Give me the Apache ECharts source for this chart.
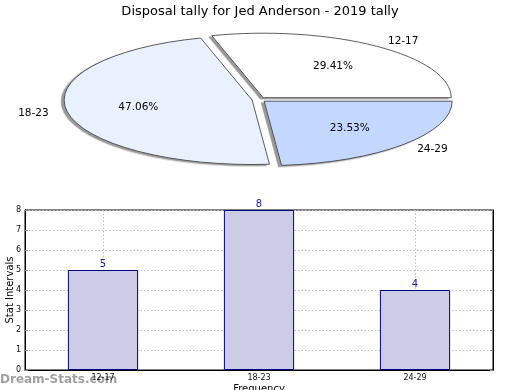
<!DOCTYPE html>
<html><head><meta charset="utf-8">
<script src="https://cdn.jsdelivr.net/npm/echarts@6/dist/echarts.min.js"></script>
<style>
html,body{margin:0;padding:0;background:#fff;}
#wrap{position:relative;width:520px;height:390px;overflow:hidden;}
#pieA{position:absolute;left:0;top:31.4px;width:520px;height:400px;transform:scaleY(0.343);transform-origin:0 0;}
#main{position:absolute;left:0;top:0;width:520px;height:390px;}
#pieA path{vector-effect:non-scaling-stroke;}
</style></head>
<body><div id="wrap"><div id="pieA"></div><div id="main"></div></div>
<script>
const categories = ['12-17', '18-23', '24-29'];
const values = [5, 8, 4];
const sliceColors = ['#ffffff', '#eaf1fe', '#c4d8ff'];
const yTicks = [0, 1, 2, 3, 4, 5, 6, 7, 8];
const titleText = 'Disposal tally for Jed Anderson - 2019 tally';

const K = 0.343;       // vertical squash of the pie
const CX = 259;
const CY = 100;        // ellipse centre y on the page
const FONT = 'DejaVu Sans';

// ---- slices (circle pie, squashed by CSS) ----
const pieA = echarts.init(document.getElementById('pieA'), null, {renderer: 'svg'});
pieA.setOption({
  animation: false,
  series: [{
    type: 'pie',
    center: [CX, 200],
    radius: 188,
    startAngle: 0,
    clockwise: false,
    selectedMode: 'multiple',
    selectedOffset: 7,
    label: {show: false},
    labelLine: {show: false},
    emphasis: {disabled: true},
    silent: true,
    data: categories.map((c, i) => ({
      name: c, value: values[i], selected: true,
      itemStyle: {color: sliceColors[i], borderColor: '#111', borderWidth: 1,
        shadowColor: '#999999', shadowBlur: 0, shadowOffsetX: -3, shadowOffsetY: 4},
      select: {itemStyle: {color: sliceColors[i], borderColor: '#111', borderWidth: 1}}
    }))
  }]
});

// ---- labels, title and bar chart ----
function squashInner(params) {
  const r = params.labelRect;
  return {
    x: r.x + r.width / 2,
    y: CY + (r.y + r.height / 2 - CY) * K,
    align: 'center',
    verticalAlign: 'middle'
  };
}
function squashOuter(params) {
  const r = params.labelRect;
  const mx = r.x + r.width / 2;
  return {
    x: mx + (mx > CX ? -5 : 5),
    y: CY + (r.y + r.height / 2 - CY) * K,
    align: 'center',
    verticalAlign: 'middle'
  };
}
const pieData = categories.map((c, i) => ({name: c, value: values[i]}));

const chart = echarts.init(document.getElementById('main'));
chart.setOption({
  animation: false,
  backgroundColor: 'transparent',
  title: {
    text: titleText, left: 'center', top: 0,
    textStyle: {fontFamily: FONT, fontSize: 13, fontWeight: 'normal', color: '#000'}
  },
  graphic: [{
    type: 'text', left: 0, top: 374, silent: true,
    style: {text: 'Dream-Stats.com', fontFamily: FONT, fontSize: 12, fontWeight: 'bold', fill: '#a0a0a0'}
  }],
  grid: {left: 25, right: 27, top: 210, bottom: 20, outerBoundsMode: 'none',
    containLabel: false, show: true, borderColor: '#000', borderWidth: 1},
  xAxis: {
    type: 'category', data: categories,
    name: 'Frequency', nameLocation: 'middle', nameGap: 14, nameMoveOverlap: false,
    nameTextStyle: {fontFamily: FONT, fontSize: 10, color: '#000'},
    axisLine: {lineStyle: {color: '#000'}},
    axisTick: {show: false},
    axisLabel: {fontFamily: FONT, fontSize: 8, color: '#111', margin: 4},
    splitLine: {show: true, alignWithLabel: true, lineStyle: {color: '#bdbdbd', type: [1.5, 2]}}
  },
  yAxis: [{
    type: 'value', min: 0, max: 8, interval: 1,
    name: 'Stat Intervals', nameLocation: 'middle', nameGap: 10, nameMoveOverlap: false,
    nameTextStyle: {fontFamily: FONT, fontSize: 10, color: '#000'},
    axisLine: {show: true, lineStyle: {color: '#000'}},
    axisTick: {show: true, inside: true, length: 3, lineStyle: {color: '#888'}},
    axisLabel: {fontFamily: FONT, fontSize: 8, color: '#111', margin: 4,
      formatter: v => yTicks.includes(v) ? String(v) : ''},
    splitLine: {show: true, lineStyle: {color: '#bdbdbd', type: [1.5, 2]}}
  }, {
    type: 'value', min: 0, max: 8, interval: 1, position: 'right',
    axisLine: {show: true, lineStyle: {color: '#000'}},
    axisTick: {show: true, inside: true, length: 3, lineStyle: {color: '#888'}},
    axisLabel: {show: false}, splitLine: {show: false}
  }],
  series: [{
    type: 'pie', center: [CX, CY], radius: [0, 239.6],
    startAngle: 0, clockwise: false, silent: true, percentPrecision: 2,
    itemStyle: {color: 'transparent', borderWidth: 0},
    emphasis: {disabled: true},
    label: {show: true, position: 'inside', formatter: '{d}%',
      fontFamily: FONT, fontSize: 10.5, color: '#000'},
    labelLine: {show: false},
    labelLayout: squashInner,
    data: pieData
  }, {
    type: 'pie', center: [CX, CY], radius: 195,
    startAngle: 0, clockwise: false, silent: true, avoidLabelOverlap: false,
    itemStyle: {color: 'transparent', borderWidth: 0},
    emphasis: {disabled: true},
    label: {show: true, position: 'outside', formatter: '{b}',
      fontFamily: FONT, fontSize: 10.5, color: '#000'},
    labelLine: {show: false, length: 19, length2: 0},
    labelLayout: squashOuter,
    data: pieData
  }, {
    type: 'bar', data: values, barWidth: '45%',
    itemStyle: {color: '#ccccE6', borderColor: '#000080', borderWidth: 1},
    label: {show: true, position: 'top', distance: 1, color: '#1a1aa6',
      fontFamily: FONT, fontSize: 10},
    emphasis: {disabled: true}
  }]
});
</script></body></html>
